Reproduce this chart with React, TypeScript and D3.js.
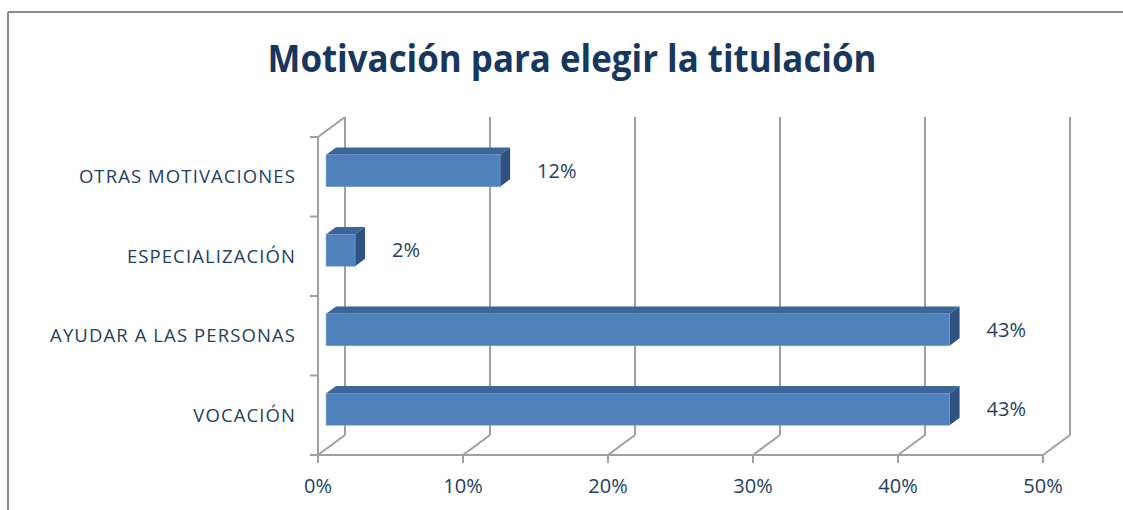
import React from "react";
import * as d3 from "d3";

const categories = ["OTRAS MOTIVACIONES", "ESPECIALIZACIÓN", "AYUDAR A LAS PERSONAS", "VOCACIÓN"];
const values = [0.12, 0.02, 0.43, 0.43];
const valueLabels = ["12%", "2%", "43%", "43%"];
const ticks = [0, 0.1, 0.2, 0.3, 0.4, 0.5];
const tickLabels = ["0%", "10%", "20%", "30%", "40%", "50%"];
const title = "Motivación para elegir la titulación";

const W = 1123;
const H = 510;
const FONT = "'Open Sans', 'Liberation Sans', sans-serif";
const TEXT = "#243F60";
const GRID = "#A0A0A0";

export default function App() {
  const x = d3.scaleLinear().domain([0, 0.5]).range([318, 1043]);
  const y = d3.scaleBand<string>().domain(categories).range([137, 455]).paddingInner(0.6).paddingOuter(0.3);
  const plotTop = 137;
  const plotBottom = 455;
  const depthX = 27;
  const depthY = -20;
  const fF = 0.3;
  const fB = 0.67;
  const bw = y.bandwidth();
  const bandEdges = d3.range(categories.length + 1).map((i) => plotTop + (i * (plotBottom - plotTop)) / categories.length);

  return (
    <svg width={W} height={H} style={{ position: "absolute", left: 0, top: 0, background: "#fff" }}>
      <g stroke="#8c8c8c" strokeWidth={2}>
        <line x1={8} y1={12} x2={W} y2={12} />
        <line x1={8} y1={12} x2={8} y2={H} />
      </g>
      <text x={572} y={72} textAnchor="middle" fontFamily={FONT} fontWeight={700} fontSize={38} fill="#17375E" textLength={609} lengthAdjust="spacingAndGlyphs">
        {title}
      </text>
      <g stroke={GRID} strokeWidth={2} fill="none">
        <line x1={x(0)} y1={plotTop} x2={x(0)} y2={plotBottom} />
        <line x1={x(0)} y1={plotTop} x2={x(0) + depthX} y2={plotTop + depthY} />
        {bandEdges.map((e, i) => (
          <line key={"ct" + i} x1={x(0) - 8} y1={e} x2={x(0)} y2={e} />
        ))}
        {ticks.map((t, i) => (
          <g key={"g" + i}>
            <line x1={x(t) + depthX} y1={plotTop + depthY} x2={x(t) + depthX} y2={plotBottom + depthY} />
            <line x1={x(t) + depthX} y1={plotBottom + depthY} x2={x(t)} y2={plotBottom} />
            <line x1={x(t)} y1={plotBottom} x2={x(t)} y2={plotBottom + 8} />
          </g>
        ))}
        <line x1={x(0)} y1={plotBottom} x2={x(0.5)} y2={plotBottom} />
      </g>
      {categories.map((c, i) => {
        const x0 = x(0) + depthX * fF;
        const x1 = x(values[i]) + depthX * fF;
        const yt = (y(c) as number) + depthY * fF;
        const yb = yt + bw;
        const ddx = depthX * (fB - fF);
        const ddy = depthY * (fB - fF);
        return (
          <g key={c}>
            <polygon points={`${x0},${yt} ${x1},${yt} ${x1 + ddx},${yt + ddy} ${x0 + ddx},${yt + ddy}`} fill="#3C6598" />
            <polygon points={`${x1},${yt} ${x1 + ddx},${yt + ddy} ${x1 + ddx},${yb + ddy} ${x1},${yb}`} fill="#2F5283" />
            <rect x={x0} y={yt} width={x1 - x0} height={bw} fill="#4F81BD" stroke="#6B96CB" strokeWidth={0.6} />
            <text x={x1 + 37} y={yt + bw / 2} dy="0.35em" fontFamily={FONT} fontSize={20} fill={TEXT}>
              {valueLabels[i]}
            </text>
            <text x={296} y={(y(c) as number) + bw / 2} dy="0.35em" textAnchor="end" fontFamily={FONT} fontSize={18.5} letterSpacing={1.1} fill={TEXT}>
              {c}
            </text>
          </g>
        );
      })}
      {ticks.map((t, i) => (
        <text key={"tl" + i} x={x(t)} y={493} textAnchor="middle" fontFamily={FONT} fontSize={20} fill={TEXT}>
          {tickLabels[i]}
        </text>
      ))}
    </svg>
  );
}
